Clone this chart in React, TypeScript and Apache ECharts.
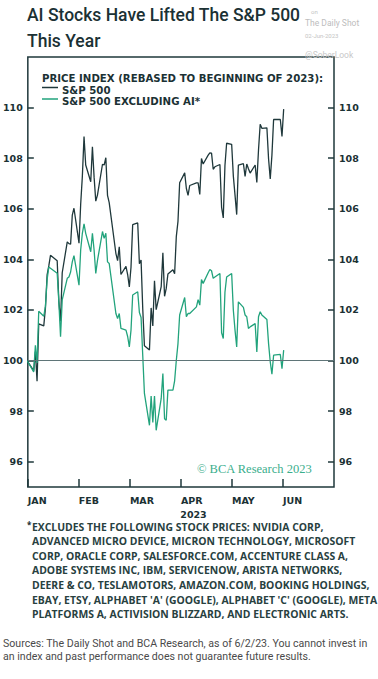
import React, { useEffect, useRef } from "react";
import * as echarts from "echarts";

// ---------- DATA ----------
const dates = [
  "2022-12-30",
  "2023-01-03", "2023-01-04", "2023-01-05", "2023-01-06", "2023-01-09", "2023-01-10", "2023-01-11", "2023-01-12", "2023-01-13",
  "2023-01-17", "2023-01-18", "2023-01-19", "2023-01-20", "2023-01-23", "2023-01-24", "2023-01-25", "2023-01-26", "2023-01-27",
  "2023-01-30", "2023-01-31",
  "2023-02-01", "2023-02-02", "2023-02-03", "2023-02-06", "2023-02-07", "2023-02-08", "2023-02-09", "2023-02-10", "2023-02-13",
  "2023-02-14", "2023-02-15", "2023-02-16", "2023-02-17", "2023-02-21", "2023-02-22", "2023-02-23", "2023-02-24", "2023-02-27",
  "2023-02-28",
  "2023-03-01", "2023-03-02", "2023-03-03", "2023-03-06", "2023-03-07", "2023-03-08", "2023-03-09", "2023-03-10", "2023-03-13",
  "2023-03-14", "2023-03-15", "2023-03-16", "2023-03-17", "2023-03-20", "2023-03-21", "2023-03-22", "2023-03-23", "2023-03-24",
  "2023-03-27", "2023-03-28", "2023-03-29", "2023-03-30", "2023-03-31",
  "2023-04-03", "2023-04-04", "2023-04-05", "2023-04-06", "2023-04-10", "2023-04-11", "2023-04-12", "2023-04-13", "2023-04-14",
  "2023-04-17", "2023-04-18", "2023-04-19", "2023-04-20", "2023-04-21", "2023-04-24", "2023-04-25", "2023-04-26", "2023-04-27",
  "2023-04-28",
  "2023-05-01", "2023-05-02", "2023-05-03", "2023-05-04", "2023-05-05", "2023-05-08", "2023-05-09", "2023-05-10", "2023-05-11",
  "2023-05-12", "2023-05-15", "2023-05-16", "2023-05-17", "2023-05-18", "2023-05-19", "2023-05-22", "2023-05-23", "2023-05-24",
  "2023-05-25", "2023-05-26", "2023-05-30", "2023-05-31",
  "2023-06-01",
];

const sp500 = [
  100,
  99.6, 100.35, 99.18, 101.45, 101.37, 102.08, 103.39, 103.74, 104.16,
  103.94, 102.33, 101.55, 103.47, 104.69, 104.62, 104.6, 105.75, 106.02,
  104.64, 106.18,
  107.28, 108.86, 107.73, 107.07, 108.45, 107.25, 106.3, 106.54, 107.76,
  107.73, 108.02, 106.53, 106.24, 104.23, 103.95, 104.5, 103.4, 103.72,
  103.4,
  102.91, 103.69, 105.37, 105.44, 103.83, 103.97, 102.05, 100.58, 100.42,
  102.08, 101.37, 103.15, 102.01, 102.92, 104.26, 102.54, 102.85, 103.42,
  103.59, 103.43, 104.9, 105.5, 107.03,
  107.42, 106.8, 106.53, 106.92, 107.02, 107.02, 106.57, 107.99, 107.77,
  108.12, 108.21, 108.2, 107.56, 107.66, 107.75, 106.05, 105.64, 107.71,
  108.59,
  108.55, 107.29, 106.54, 105.77, 107.73, 107.78, 107.28, 107.77, 107.58,
  107.41, 107.73, 107.04, 108.32, 109.34, 109.18, 109.2, 107.97, 107.18,
  108.12, 109.53, 109.53, 108.86,
  109.94,
];

const sp500ExAI = [
  100,
  99.55, 100.6, 99.9, 101.95, 101.75, 102.15, 103.2, 103.7, 103.65,
  103.45, 102.3, 100.94, 102.4, 103.25, 103.3, 103.5, 103.9, 104.15,
  102.98, 104.37,
  105.03, 105.4, 105.03, 104.3, 105.03, 104.37, 103.44, 103.95, 105.1,
  104.83, 105.03, 103.9, 103.84, 101.86, 101.66, 101.86, 101.27, 101.2,
  100.95,
  100.54, 101.2, 102.59, 102.72, 101.9, 101.7, 100.2, 98.7, 97.44,
  98.6, 97.55, 98.6, 97.24, 98.5, 99.49, 97.7, 97.64, 98.83,
  98.83, 99.2, 100.0, 100.67, 101.8,
  102.49, 101.73, 101.86, 101.86, 102.12, 102.41, 102.19, 103.2, 103.05,
  103.47, 103.6, 103.55, 103.25, 103.3, 103.44, 101.1, 100.87, 102.7,
  103.3,
  103.44, 101.99, 101.2, 100.54, 102.32, 102.1, 101.8, 101.73, 101.27,
  101.33, 101.46, 100.34, 101.73, 101.93, 101.8, 101.62, 100.67, 99.95,
  99.46, 100.21, 100.24, 99.68,
  100.41,
];

const seriesNames = ["S&P 500", "S&P 500 EXCLUDING AI*"];
const monthLabels = ["JAN", "FEB", "MAR", "APR", "MAY", "JUN"];
const monthTicks = [0, 1, 2, 3, 4, 5];
const yTicks = [96, 98, 100, 102, 104, 106, 108, 110];
const baseLevel = 100;

const titleLines = ["AI Stocks Have Lifted The S&P 500", "This Year"];
const legendHeader = "PRICE INDEX (REBASED TO BEGINNING OF 2023):";
const footnoteLines = [
  "EXCLUDES THE FOLLOWING STOCK PRICES: NVIDIA CORP,",
  "ADVANCED MICRO DEVICE, MICRON TECHNOLOGY, MICROSOFT",
  "CORP, ORACLE CORP, SALESFORCE.COM, ACCENTURE CLASS A,",
  "ADOBE SYSTEMS INC, IBM, SERVICENOW, ARISTA NETWORKS,",
  "DEERE & CO, TESLAMOTORS, AMAZON.COM, BOOKING HOLDINGS,",
  "EBAY, ETSY, ALPHABET 'A' (GOOGLE), ALPHABET 'C' (GOOGLE), META",
  "PLATFORMS A, ACTIVISION BLIZZARD, AND ELECTRONIC ARTS.",
];
const sourceLines = [
  "Sources: The Daily Shot and BCA Research, as of 6/2/23. You cannot invest in",
  "an index and past performance does not guarantee future results.",
];

// ---------- STYLE ----------
const DARK = "#1f383b";
const GREEN = "#22a37c";
const TEXT = "#1b3134";
const WIDE = "'DejaVu Sans', sans-serif";
const LEGEND_FONT = `700 10.2px ${WIDE}`;

const toTs = (s: string) => {
  const [y, m, d] = s.split("-").map(Number);
  return Date.UTC(y, m - 1, d);
};

export default function App() {
  const ref = useRef<HTMLDivElement>(null);

  useEffect(() => {
    document.body.style.margin = "0";
    if (!ref.current) return;
    const chart = echarts.init(ref.current, null, { renderer: "svg" });

    const darkData = dates.map((d, i) => [toTs(d), sp500[i]]);
    const greenData = dates.map((d, i) => [toTs(d), sp500ExAI[i]]);

    const yAxisCommon = (position: "left" | "right") => ({
      type: "value",
      position,
      min: 95,
      max: 112,
      axisLine: { show: false },
      splitLine: { show: false },
      axisTick: {
        show: true,
        inside: true,
        length: 6,
        customValues: yTicks,
        lineStyle: { color: DARK, width: 1.5 },
      },
      axisLabel: {
        customValues: yTicks,
        margin: 5,
        color: TEXT,
        fontFamily: WIDE,
        fontWeight: 700,
        fontSize: 9.5,
      },
    });

    const text = (
      x: number,
      y: number,
      t: string,
      font: string,
      fill: string,
      align = "left",
      lineHeight?: number
    ) => ({
      type: "text",
      x,
      y,
      silent: true,
      style: {
        text: t,
        font,
        fill,
        textAlign: align,
        textVerticalAlign: "middle",
        ...(lineHeight ? { lineHeight } : {}),
      },
    });

    chart.setOption({
      animation: false,
      backgroundColor: "#ffffff",
      grid: {
        left: 27,
        right: 44,
        top: 57,
        bottom: 192,
        show: true,
        borderColor: DARK,
        borderWidth: 1.5,
        backgroundColor: "transparent",
      },
      xAxis: [
        {
          type: "time",
          min: Date.UTC(2022, 11, 30, 12),
          max: Date.UTC(2023, 6, 1),
          show: false,
        },
        {
          type: "value",
          position: "bottom",
          min: 0,
          max: 6,
          interval: 1,
          axisLine: { show: false },
          splitLine: { show: false },
          axisTick: {
            show: true,
            inside: true,
            length: 8,
            customValues: monthTicks,
            lineStyle: { color: DARK, width: 1.5 },
          },
          axisLabel: {
            customValues: monthTicks,
            formatter: (v: number) => monthLabels[v] ?? "",
            align: "left",
            margin: 8,
            color: TEXT,
            fontFamily: WIDE,
            fontWeight: 700,
            fontSize: 9.5,
          },
        },
      ],
      yAxis: [yAxisCommon("left"), yAxisCommon("right")],
      series: [
        {
          name: seriesNames[1],
          type: "line",
          xAxisIndex: 0,
          yAxisIndex: 0,
          data: greenData,
          showSymbol: false,
          symbol: "none",
          lineStyle: { color: GREEN, width: 1.3 },
          z: 3,
          markLine: {
            silent: true,
            symbol: ["none", "none"],
            label: { show: false },
            lineStyle: { color: "#5f7578", width: 1, type: "solid" },
            data: [{ yAxis: baseLevel }],
          },
        },
        {
          name: seriesNames[0],
          type: "line",
          xAxisIndex: 0,
          yAxisIndex: 0,
          data: darkData,
          showSymbol: false,
          symbol: "none",
          lineStyle: { color: DARK, width: 1.3 },
          z: 2,
        },
      ],
      graphic: [
        text(27, 15, titleLines[0], "500 17.5px Roboto, sans-serif", TEXT),
        text(27, 40.5, titleLines[1], "500 17.5px Roboto, sans-serif", TEXT),
        text(311, 11, "on", "6px Roboto, sans-serif", "#c4c4c4"),
        text(305, 23, "The Daily Shot", "8.5px Roboto, sans-serif", "#bdbdbd"),
        text(305, 35, "02-Jun-2023", "6px Roboto, sans-serif", "#c4c4c4"),
        text(305, 55, "@SoberLook", "8.5px Roboto, sans-serif", "#c8c8c8"),
        text(42, 78.5, legendHeader, LEGEND_FONT, TEXT, "left", 10.5),
        { type: "line", silent: true, shape: { x1: 42, y1: 87.5, x2: 58, y2: 87.5 }, style: { stroke: DARK, lineWidth: 1.5 } },
        text(62, 90, seriesNames[0], LEGEND_FONT, TEXT, "left", 10.5),
        { type: "line", silent: true, shape: { x1: 42, y1: 99, x2: 58, y2: 99 }, style: { stroke: GREEN, lineWidth: 1.5 } },
        text(62, 101.5, seriesNames[1], LEGEND_FONT, TEXT, "left", 10.5),
        text(197, 468.5, "© BCA Research 2023", "12.5px 'Liberation Serif', serif", "#3aae8c"),
        text(193.5, 514.5, "2023", `700 9.5px ${WIDE}`, TEXT, "center"),
        text(27, 524, "*", "700 8px 'Open Sans', sans-serif", TEXT),
        ...footnoteLines.map((l, i) =>
          text(32, 526.5 + i * 14.6, l, "700 10.4px 'Open Sans', sans-serif", "#28413f", "left", 13)
        ),
        ...sourceLines.map((l, i) =>
          text(3, 643.5 + i * 12.5, l, "10.6px Roboto, sans-serif", "#4a4a4a", "left", 12)
        ),
      ],
    });

    return () => chart.dispose();
  }, []);

  return (
    <div
      ref={ref}
      style={{ position: "fixed", left: 0, top: 0, width: 378, height: 679, background: "#fff" }}
    />
  );
}
